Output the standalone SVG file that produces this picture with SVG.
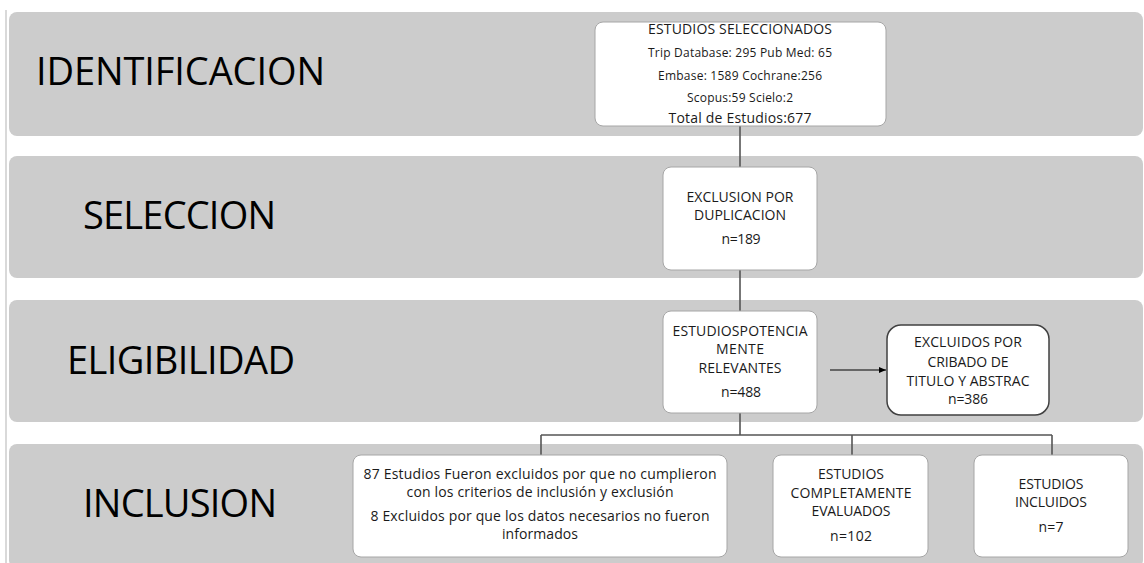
<svg xmlns="http://www.w3.org/2000/svg" width="1144" height="563" viewBox="0 0 1144 563">
<style>
.band{fill:#cccccc}
.box{fill:#ffffff;stroke:#a6a6a6;stroke-width:1}
.box2{fill:#ffffff;stroke:#404040;stroke-width:1.5}
.lbl{font-family:"Open Sans","Liberation Sans",sans-serif;font-size:38px;fill:#000}
.t{font-family:"Open Sans","Liberation Sans",sans-serif;font-size:14px;fill:#1a1a1a;text-anchor:middle}
.s{font-family:"Open Sans","Liberation Sans",sans-serif;font-size:12px;fill:#1a1a1a;text-anchor:middle}
.conn{stroke:#555;stroke-width:1.6;fill:none}
</style>
<defs>
<marker id="arr" markerWidth="8" markerHeight="8" refX="7" refY="4" orient="auto" markerUnits="userSpaceOnUse">
<path d="M0,1 L7,4 L0,7 Z" fill="#000"/>
</marker>
</defs>
<rect x="0" y="0" width="1144" height="563" fill="#ffffff"/>
<line x1="6" y1="10" x2="6" y2="563" stroke="#d9d9d9" stroke-width="2"/>
<g id="bands">
<rect class="band" x="9" y="12" width="1134" height="124" rx="8"/>
<rect class="band" x="9" y="156" width="1134" height="122" rx="8"/>
<rect class="band" x="9" y="300" width="1134" height="122" rx="8"/>
<rect class="band" x="9" y="444" width="1134" height="124" rx="8"/>
<text class="lbl" x="36" y="85" textLength="289">IDENTIFICACION</text>
<text class="lbl" x="83" y="229" textLength="193">SELECCION</text>
<text class="lbl" x="67" y="374" textLength="228">ELIGIBILIDAD</text>
<text class="lbl" x="83" y="517" textLength="194">INCLUSION</text>
</g>
<g id="connectors">
<line class="conn" x1="740" y1="126" x2="740" y2="167"/>
<line class="conn" x1="740" y1="270" x2="740" y2="311"/>
<polyline class="conn" points="740,413 740,435" stroke="#333" stroke-width="2"/>
<line class="conn" x1="541" y1="435" x2="1052" y2="435"/>
<line class="conn" x1="541" y1="435" x2="541" y2="455"/>
<line class="conn" x1="852" y1="435" x2="852" y2="455"/>
<line class="conn" x1="1052" y1="435" x2="1052" y2="455"/>
<line x1="830" y1="370" x2="886" y2="370" stroke="#000" stroke-width="1" marker-end="url(#arr)"/>
</g>
<g id="n-seleccionados">
<rect class="box" x="595" y="22" width="291" height="104" rx="8"/>
<text class="t" x="740" y="34" font-size="13.8" textLength="184">ESTUDIOS SELECCIONADOS</text>
<text class="s" x="740" y="57" textLength="184">Trip Database: 295 Pub Med: 65</text>
<text class="s" x="740" y="80" textLength="164">Embase: 1589 Cochrane:256</text>
<text class="s" x="740" y="102" textLength="106">Scopus:59 Scielo:2</text>
<text class="t" x="740" y="123" font-size="14.5" textLength="143">Total de Estudios:677</text>
</g>
<g id="n-duplicacion">
<rect class="box" x="663" y="167" width="154" height="103" rx="8"/>
<text class="t" x="740" y="202" textLength="107">EXCLUSION POR</text>
<text class="t" x="740" y="220" textLength="92">DUPLICACION</text>
<text class="t" x="741" y="244" textLength="39">n=189</text>
</g>
<g id="n-potencial">
<rect class="box" x="663" y="311" width="154" height="102" rx="8"/>
<text class="t" x="740" y="336" textLength="135">ESTUDIOSPOTENCIA</text>
<text class="t" x="740" y="354" textLength="48">MENTE</text>
<text class="t" x="740" y="373" textLength="83">RELEVANTES</text>
<text class="t" x="741" y="397" textLength="40">n=488</text>
</g>
<g id="n-cribado">
<rect class="box2" x="887" y="325" width="162" height="90" rx="14"/>
<text class="t" x="968" y="347" textLength="108">EXCLUIDOS POR</text>
<text class="t" x="968" y="367" textLength="81">CRIBADO DE</text>
<text class="t" x="968" y="386" textLength="123">TITULO Y ABSTRAC</text>
<text class="t" x="968" y="404" textLength="40">n=386</text>
</g>
<g id="n-excluidos">
<rect class="box" x="353" y="455" width="374" height="102" rx="8"/>
<text class="t" x="540" y="479" textLength="353">87 Estudios Fueron excluidos por que no cumplieron</text>
<text class="t" x="540" y="497" textLength="267">con los criterios de inclusión y exclusión</text>
<text class="t" x="540" y="521" textLength="339">8 Excluidos por que los datos necesarios no fueron</text>
<text class="t" x="540" y="539" textLength="76">informados</text>
</g>
<g id="n-evaluados">
<rect class="box" x="773" y="455" width="155" height="102" rx="8"/>
<text class="t" x="851" y="479" textLength="66">ESTUDIOS</text>
<text class="t" x="851" y="498" textLength="121">COMPLETAMENTE</text>
<text class="t" x="851" y="516" textLength="79">EVALUADOS</text>
<text class="t" x="851" y="541" textLength="42">n=102</text>
</g>
<g id="n-incluidos">
<rect class="box" x="974" y="455" width="154" height="102" rx="8"/>
<text class="t" x="1051" y="489" textLength="65">ESTUDIOS</text>
<text class="t" x="1051" y="507" textLength="72">INCLUIDOS</text>
<text class="t" x="1051" y="532" textLength="25">n=7</text>
</g>
</svg>
